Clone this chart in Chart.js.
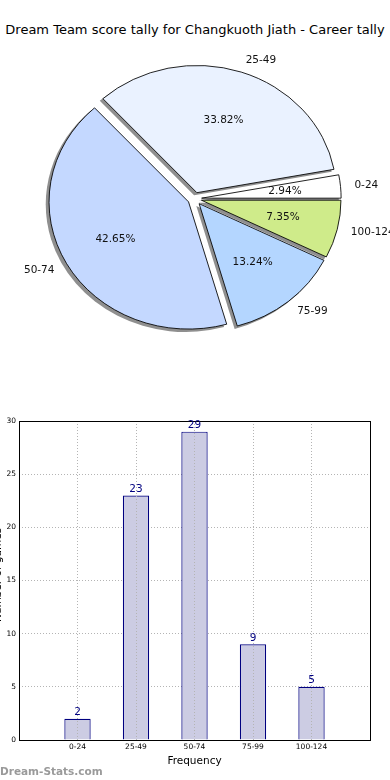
<!DOCTYPE html>
<html lang="en">
<head>
  <meta charset="UTF-8">
  <meta name="viewport" content="width=device-width, initial-scale=1.0">
  <script src="https://cdn.jsdelivr.net/npm/chart.js"></script>
  <title>Dream Team score tally</title>
  <style>
    body { margin: 0; background: #fff; width: 390px; height: 780px; position: relative; overflow: hidden; }
    .titulo {
        position: absolute; top: 22px; left: 0; width: 390px; text-align: center;
        font: 13px "DejaVu Sans"; line-height: 16px; color: #000; white-space: nowrap;
    }
    #pieChart { position: absolute; left: 0; top: 0; }
    #barChart { position: absolute; left: 0; top: 400px; }
  </style>
</head>
<body>

<div class="titulo">Dream Team score tally for Changkuoth Jiath - Career tally</div>
<canvas id="pieChart" width="390" height="400"></canvas>
<canvas id="barChart" width="390" height="380"></canvas>

<script>
    // dados
    const categories = ['0-24', '25-49', '50-74', '75-99', '100-124'];
    const tally = [2, 23, 29, 9, 5];
    const yTicks = [0, 5, 10, 15, 20, 25, 30];
    const pieColors = ['#ffffff', '#eaf2ff', '#c4d8ff', '#b4d6ff', '#cfeb8a'];

    const total = tally.reduce((a, b) => a + b, 0);
    const squash = 0.912;   // pie is a bit flatter than it is wide
    const explode = 7;      // px each slice is pushed out

    // matplotlib goes counter-clockwise from 3 o'clock, chart.js clockwise -> reverse
    const pieLabels = categories.slice().reverse();
    const pieValues = tally.slice().reverse();
    const pieFill = pieColors.slice().reverse();

    const pieDeco = {
        id: 'pieDeco',
        beforeDatasetsDraw(chart) {
            const ctx = chart.ctx;
            const arcs = chart.getDatasetMeta(0).data;
            const cx = arcs[0].x, cy = arcs[0].y;
            ctx.save();
            ctx.translate(cx, cy);
            ctx.scale(1, squash);
            ctx.translate(-cx, -cy);
            // shadows first
            ctx.save();
            ctx.translate(-2.8, 2.7);
            ctx.fillStyle = '#8f8f8f';
            arcs.forEach(a => {
                const mid = (a.startAngle + a.endAngle) / 2;
                const ox = a.x + Math.cos(mid) * explode, oy = a.y + Math.sin(mid) * explode;
                ctx.beginPath();
                ctx.moveTo(ox, oy);
                ctx.arc(ox, oy, a.outerRadius + 0.5, a.startAngle, a.endAngle);
                ctx.closePath();
                ctx.fill();
            });
            ctx.restore();
            // slices, each pushed out along its middle
            arcs.forEach(a => {
                const mid = (a.startAngle + a.endAngle) / 2;
                ctx.save();
                ctx.translate(Math.cos(mid) * explode, Math.sin(mid) * explode);
                a.draw(ctx);
                ctx.restore();
            });
            ctx.restore();
            return false;
        },
        afterDraw(chart) {
            const ctx = chart.ctx;
            const arcs = chart.getDatasetMeta(0).data;
            ctx.save();
            ctx.font = '10.5px "DejaVu Sans"';
            ctx.fillStyle = '#111';
            ctx.textBaseline = 'middle';
            arcs.forEach((a, i) => {
                const mid = (a.startAngle + a.endAngle) / 2;
                const c = Math.cos(mid), s = Math.sin(mid);
                const dIn = a.outerRadius * 0.6 + explode;
                ctx.textAlign = 'center';
                const pct = (pieValues[i] / total * 100).toFixed(2) + '%';
                ctx.fillText(pct, a.x + c * dIn, a.y + s * dIn * squash);
                const dOut = a.outerRadius * 1.1 + explode;
                ctx.textAlign = c >= 0 ? 'left' : 'right';
                ctx.fillText(pieLabels[i], a.x + c * dOut, a.y + s * dOut * squash);
            });
            ctx.restore();
        }
    };

    new Chart(document.getElementById('pieChart'), {
        type: 'pie',
        data: {
            labels: pieLabels,
            datasets: [{
                data: pieValues,
                backgroundColor: pieFill,
                borderColor: '#000',
                borderWidth: 0.9,
                hoverBorderWidth: 0.9,
                offset: 0,
                hoverOffset: 0
            }]
        },
        options: {
            responsive: false,
            animation: false,
            devicePixelRatio: 1,
            rotation: 90,
            events: [],
            layout: { padding: { left: 54.7, top: 58.8, right: 55.4, bottom: 61.3 } },
            plugins: { legend: { display: false }, tooltip: { enabled: false } }
        },
        plugins: [pieDeco]
    });

    const barDeco = {
        id: 'barDeco',
        afterDraw(chart) {
            const ctx = chart.ctx;
            const area = chart.chartArea;
            ctx.save();
            // frame
            ctx.strokeStyle = '#000';
            ctx.lineWidth = 1;
            ctx.strokeRect(Math.round(area.left) + 0.5, Math.round(area.top) + 0.5,
                Math.round(area.right - area.left), Math.round(area.bottom - area.top));
            // value labels
            ctx.font = '10.5px "DejaVu Sans"';
            ctx.fillStyle = '#000080';
            ctx.textAlign = 'center';
            ctx.textBaseline = 'bottom';
            chart.getDatasetMeta(0).data.forEach((bar, i) => {
                ctx.fillText(String(tally[i]), bar.x, bar.y - 1);
            });
            // y axis title (cut off at the page edge)
            ctx.fillStyle = '#000';
            ctx.font = '10.5px "DejaVu Sans"';
            ctx.translate(0.5, (area.top + area.bottom) / 2 - 5.5);
            ctx.rotate(-Math.PI / 2);
            ctx.textBaseline = 'alphabetic';
            ctx.fillText('Number of games', 0, 0);
            ctx.restore();
            // watermark
            ctx.save();
            ctx.font = 'bold 10.5px "DejaVu Sans"';
            ctx.fillStyle = '#9a9a9a';
            ctx.textAlign = 'left';
            ctx.textBaseline = 'alphabetic';
            ctx.fillText('Dream-Stats.com', 0, 375);
            ctx.restore();
        }
    };

    new Chart(document.getElementById('barChart'), {
        type: 'bar',
        data: {
            datasets: [{
                data: categories.map((c, i) => ({ x: i, y: tally[i] })),
                backgroundColor: '#cccce3',
                borderColor: '#000080',
                borderWidth: 1.2,
                barPercentage: 0.45,
                categoryPercentage: 1
            }]
        },
        options: {
            responsive: false,
            animation: false,
            devicePixelRatio: 1,
            events: [],
            layout: { padding: { left: 0, top: 21, right: 20, bottom: 12.7 } },
            plugins: { legend: { display: false }, tooltip: { enabled: false } },
            scales: {
                x: {
                    type: 'linear',
                    offset: false,
                    min: -1,
                    max: categories.length,
                    afterFit(scale) { scale.height = 27.3; },
                    afterBuildTicks(scale) {
                        scale.ticks = [-1].concat(categories.map((c, i) => i), [categories.length]).map(v => ({ value: v }));
                    },
                    ticks: {
                        autoSkip: false,
                        maxRotation: 0,
                        padding: 3,
                        color: '#000',
                        font: { family: 'DejaVu Sans', size: 7.5 },
                        callback: v => categories[v] !== undefined ? categories[v] : ''
                    },
                    grid: { color: '#b4b4b4', drawTicks: false, offset: false, z: 1 },
                    border: { display: false, dash: [1, 2] },
                    title: {
                        display: true,
                        text: 'Frequency',
                        color: '#000',
                        padding: 0,
                        font: { family: 'DejaVu Sans', size: 10.5 }
                    }
                },
                y: {
                    min: 0,
                    max: 30,
                    afterFit(scale) { scale.width = 19; },
                    afterBuildTicks(scale) {
                        scale.ticks = yTicks.map(v => ({ value: v }));
                    },
                    ticks: {
                        padding: 3,
                        color: '#000',
                        font: { family: 'DejaVu Sans', size: 7.5 }
                    },
                    grid: { color: '#b4b4b4', drawTicks: false },
                    border: { display: false, dash: [1, 2] }
                }
            }
        },
        plugins: [barDeco]
    });
</script>

</body>
</html>
